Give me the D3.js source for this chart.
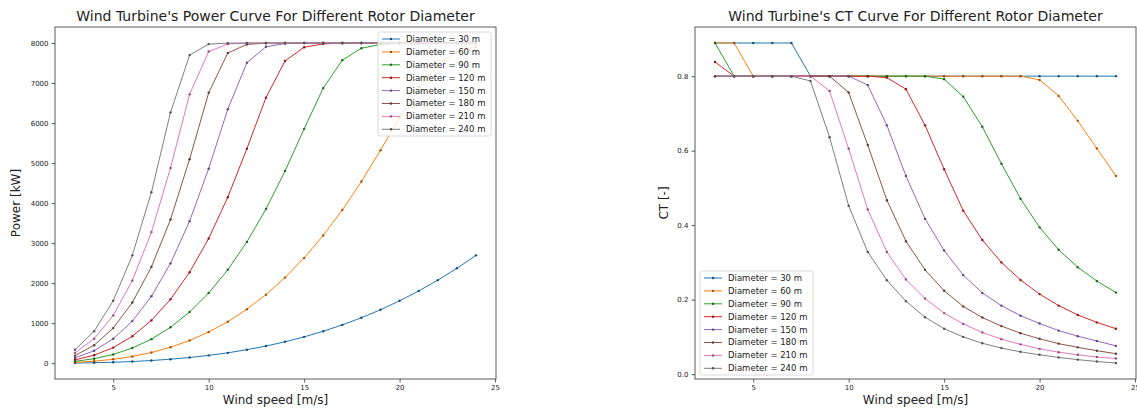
<!DOCTYPE html>
<html lang="en">

<head>
    <meta charset="UTF-8">
    <script src="https://d3js.org/d3.v7.min.js"></script>
    <title>Wind Turbine Curves</title>
    <style>
        body { margin: 0; background: #fff; }
        text { font-family: "DejaVu Sans", sans-serif; fill: #222; }
    </style>
</head>

<body>
    <svg id="mainsvg" width="1137" height="409"></svg>

    <script>
        // data
        const windSpeed = [3, 4, 5, 6, 7, 8, 9, 10, 11, 12, 13, 14, 15, 16, 17, 18, 19, 20, 21, 22, 23, 24]
        const diameters = [30, 60, 90, 120, 150, 180, 210, 240]

        // power [kW]
        const power30 = [5, 12, 24, 42, 67, 100, 142, 195, 259, 337, 428, 535, 658, 798, 957, 1136, 1336, 1559, 1804, 2075, 2371, 2694]
        const power60 = [21, 50, 97, 168, 267, 399, 568, 779, 1037, 1347, 1712, 2139, 2630, 3192, 3828, 4539, 5320, 6136, 6897, 7462, 7774, 7911]
        const power90 = [47, 112, 219, 379, 601, 898, 1278, 1754, 2334, 3030, 3852, 4802, 5855, 6873, 7572, 7870, 7962, 7989, 7998, 8000, 8000, 8000]
        const power120 = [84, 200, 390, 673, 1069, 1596, 2273, 3116, 4146, 5359, 6635, 7552, 7894, 7978, 7995, 8000, 8000, 8000, 8000, 8000, 8000, 8000]
        const power150 = [132, 312, 609, 1052, 1671, 2494, 3549, 4860, 6346, 7505, 7907, 7985, 7997, 8000, 8000, 8000, 8000, 8000, 8000, 8000, 8000, 8000]
        const power180 = [189, 449, 877, 1515, 2406, 3590, 5095, 6756, 7749, 7965, 7995, 8000, 8000, 8000, 8000, 8000, 8000, 8000, 8000, 8000, 8000, 8000]
        const power210 = [258, 611, 1194, 2062, 3275, 4876, 6717, 7786, 7976, 7997, 8000, 8000, 8000, 8000, 8000, 8000, 8000, 8000, 8000, 8000, 8000, 8000]
        const power240 = [337, 798, 1559, 2694, 4273, 6264, 7698, 7972, 7997, 8000, 8000, 8000, 8000, 8000, 8000, 8000, 8000, 8000, 8000, 8000, 8000, 8000]

        // thrust coefficient [-]
        const ct30 = [0.889, 0.889, 0.889, 0.889, 0.889, 0.8, 0.8, 0.8, 0.8, 0.8, 0.8, 0.8, 0.8, 0.8, 0.8, 0.8, 0.8, 0.8, 0.8, 0.8, 0.8, 0.8]
        const ct60 = [0.889, 0.889, 0.8, 0.8, 0.8, 0.8, 0.8, 0.8, 0.8, 0.8, 0.8, 0.8, 0.8, 0.8, 0.8, 0.8, 0.8, 0.79, 0.747, 0.68, 0.606, 0.532]
        const ct90 = [0.889, 0.8, 0.8, 0.8, 0.8, 0.8, 0.8, 0.8, 0.8, 0.8, 0.8, 0.8, 0.792, 0.745, 0.664, 0.565, 0.471, 0.394, 0.334, 0.287, 0.25, 0.219]
        const ct120 = [0.838, 0.8, 0.8, 0.8, 0.8, 0.8, 0.8, 0.8, 0.8, 0.796, 0.765, 0.668, 0.55, 0.439, 0.36, 0.3, 0.253, 0.215, 0.184, 0.159, 0.139, 0.122]
        const ct150 = [0.8, 0.8, 0.8, 0.8, 0.8, 0.8, 0.8, 0.8, 0.776, 0.668, 0.532, 0.417, 0.332, 0.266, 0.218, 0.184, 0.157, 0.136, 0.117, 0.102, 0.089, 0.076]
        const ct180 = [0.8, 0.8, 0.8, 0.8, 0.8, 0.8, 0.8, 0.756, 0.615, 0.467, 0.357, 0.28, 0.224, 0.182, 0.152, 0.129, 0.11, 0.095, 0.082, 0.072, 0.063, 0.055]
        const ct210 = [0.8, 0.8, 0.8, 0.8, 0.8, 0.8, 0.76, 0.605, 0.442, 0.328, 0.254, 0.203, 0.164, 0.135, 0.112, 0.094, 0.08, 0.068, 0.059, 0.052, 0.046, 0.042]
        const ct240 = [0.8, 0.8, 0.8, 0.8, 0.8, 0.787, 0.636, 0.452, 0.328, 0.252, 0.196, 0.153, 0.122, 0.1, 0.083, 0.07, 0.06, 0.052, 0.045, 0.039, 0.034, 0.03]

        const xTicks = [5, 10, 15, 20, 25]
        const powerTicks = [0, 1000, 2000, 3000, 4000, 5000, 6000, 7000, 8000]
        const ctTicks = [0.0, 0.2, 0.4, 0.6, 0.8]

        const powerSeries = [power30, power60, power90, power120, power150, power180, power210, power240]
        const ctSeries = [ct30, ct60, ct90, ct120, ct150, ct180, ct210, ct240]
        const colors = ['#1f77b4', '#ff7f0e', '#2ca02c', '#d62728', '#9467bd', '#8c564b', '#e377c2', '#7f7f7f']

        const svg = d3.select('#mainsvg')

        // matplotlib style 5% padding around data
        const padded = function (lo, hi) {
            const m = (hi - lo) * 0.05
            return [lo - m, hi + m]
        }

        const render = function (opt) {
            const { left, right, top, bottom } = opt
            const allY = opt.series.flat()
            const xScale = d3.scaleLinear()
                .domain(padded(d3.min(windSpeed), d3.max(windSpeed)))
                .range([left, right])
            const yScale = d3.scaleLinear()
                .domain(padded(d3.min(allY), d3.max(allY)))
                .range([bottom, top])

            const g = svg.append('g')

            // lines + markers
            const line = d3.line()
                .x((d, i) => xScale(windSpeed[i]))
                .y(d => yScale(d))
            opt.series.forEach((s, k) => {
                g.append('path')
                    .datum(s)
                    .attr('d', line)
                    .attr('fill', 'none')
                    .attr('stroke', colors[k])
                    .attr('stroke-width', 1)
                g.selectAll(null)
                    .data(s)
                    .enter()
                    .append('circle')
                    .attr('cx', (d, i) => xScale(windSpeed[i]))
                    .attr('cy', d => yScale(d))
                    .attr('r', 1.2)
                    .attr('fill', d3.color(colors[k]).darker(1.2))
            })

            // axes
            const xAxis = g.append('g')
                .attr('transform', `translate(0, ${bottom})`)
                .call(d3.axisBottom(xScale).tickValues(xTicks).tickSize(3.5).tickPadding(3).tickFormat(d3.format('d')))
            const yAxis = g.append('g')
                .attr('transform', `translate(${left}, 0)`)
                .call(d3.axisLeft(yScale).tickValues(opt.yTicks).tickSize(3.5).tickPadding(3).tickFormat(opt.yFormat))
            for (const a of [xAxis, yAxis]) {
                a.select('.domain').remove()
                a.selectAll('line').attr('stroke', '#333').attr('stroke-width', 0.8)
                a.selectAll('text').attr('font-size', 7).attr('fill', '#333')
            }

            // frame
            g.append('rect')
                .attr('x', left).attr('y', top)
                .attr('width', right - left).attr('height', bottom - top)
                .attr('fill', 'none').attr('stroke', '#333').attr('stroke-width', 0.8)

            // texts
            g.append('text')
                .attr('x', (left + right) / 2).attr('y', top - 6)
                .attr('text-anchor', 'middle').attr('font-size', 14)
                .text(opt.title)
            g.append('text')
                .attr('x', (left + right) / 2).attr('y', 404)
                .attr('text-anchor', 'middle').attr('font-size', 12)
                .text('Wind speed [m/s]')
            g.append('text')
                .attr('transform', `translate(${opt.ylabelX}, ${(top + bottom) / 2}) rotate(-90)`)
                .attr('text-anchor', 'middle').attr('font-size', 12)
                .text(opt.ylabel)

            // legend
            const lg = g.append('g').attr('transform', `translate(${opt.legend[0]}, ${opt.legend[1]})`)
            lg.append('rect')
                .attr('width', 113).attr('height', 104).attr('rx', 2)
                .attr('fill', '#fff').attr('fill-opacity', 0.8)
                .attr('stroke', '#d0d0d0').attr('stroke-width', 0.8)
            diameters.forEach((d, k) => {
                const yy = 7 + k * 12.9
                lg.append('line')
                    .attr('x1', 4).attr('x2', 22).attr('y1', yy).attr('y2', yy)
                    .attr('stroke', colors[k]).attr('stroke-width', 1)
                lg.append('circle')
                    .attr('cx', 13).attr('cy', yy).attr('r', 1.2)
                    .attr('fill', d3.color(colors[k]).darker(1.2))
                lg.append('text')
                    .attr('x', 28).attr('y', yy + 2.9)
                    .attr('font-size', 8.5)
                    .text(`Diameter = ${d} m`)
            })
        }

        render({
            left: 55, right: 496, top: 27, bottom: 379,
            series: powerSeries, yTicks: powerTicks, yFormat: d3.format('d'),
            title: "Wind Turbine's Power Curve For Different Rotor Diameter",
            ylabel: 'Power [kW]', ylabelX: 20,
            legend: [378, 32]
        })

        render({
            left: 695, right: 1136, top: 27, bottom: 379,
            series: ctSeries, yTicks: ctTicks, yFormat: d3.format('.1f'),
            title: "Wind Turbine's CT Curve For Different Rotor Diameter",
            ylabel: 'CT [-]', ylabelX: 668,
            legend: [700, 271]
        })
    </script>
</body>

</html>
